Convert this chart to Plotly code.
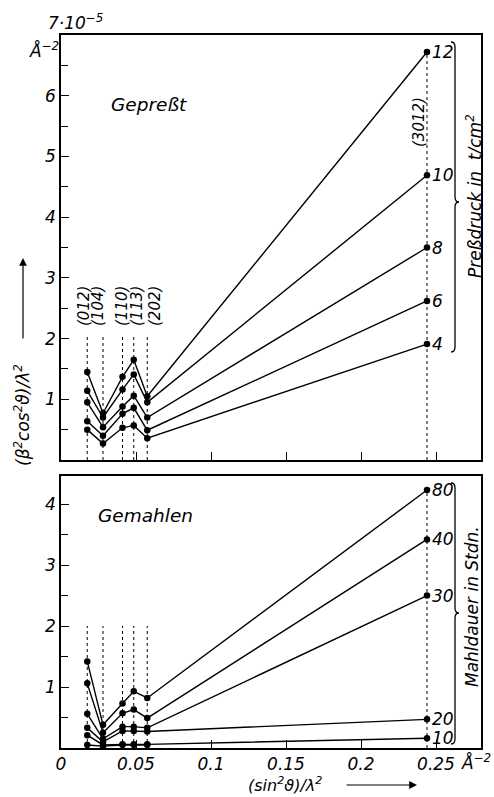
import plotly.graph_objects as go

# ---------------- data ----------------
refl_labels = ["(012)", "(104)", "(110)", "(113)", "(202)", "(3012)"]
x_refl = [0.0175, 0.028, 0.041, 0.0485, 0.0575, 0.244]

press_labels = ["12", "10", "8", "6", "4"]
press_12 = [1.45, 0.77, 1.37, 1.65, 1.05, 6.72]
press_10 = [1.14, 0.70, 1.16, 1.41, 0.95, 4.69]
press_8 = [0.95, 0.54, 0.88, 1.06, 0.70, 3.50]
press_6 = [0.64, 0.40, 0.76, 0.86, 0.49, 2.62]
press_4 = [0.50, 0.27, 0.53, 0.57, 0.36, 1.91]

mill_labels = ["80", "40", "30", "20", "10"]
mill_80 = [1.42, 0.38, 0.73, 0.93, 0.82, 4.23]
mill_40 = [1.06, 0.25, 0.57, 0.63, 0.49, 3.42]
mill_30 = [0.56, 0.15, 0.35, 0.35, 0.33, 2.50]
mill_20 = [0.33, 0.10, 0.28, 0.28, 0.27, 0.47]
mill_10 = [0.21, 0.05, 0.06, 0.06, 0.06, 0.16]
mill_base = [0.05, 0.03, 0.05, 0.05, 0.05]

x_tickvals = [0, 0.05, 0.1, 0.15, 0.2, 0.25]
x_ticktext = ["0", "0.05", "0.1", "0.15", "0.2", "0.25"]
y1_major = [1, 2, 3, 4, 5, 6]
y2_major = [1, 2, 3, 4]

# ---------------- figure ----------------
W, H = 494, 797
L, R, T, B = 61, 13, 35, 49
PW, PH = W - L - R, H - T - B


def P(px, py):
    return (px - L) / PW, (H - B - py) / PH


FONT = "DejaVu Sans"
fig = go.Figure()

press_series = [press_12, press_10, press_8, press_6, press_4]
mill_series = [mill_80, mill_40, mill_30, mill_20, mill_10]

line_style = dict(color="black", width=1.4)
mk = dict(color="black", size=6.5)

for name, ys in zip(press_labels, press_series):
    fig.add_trace(go.Scatter(x=x_refl, y=ys, mode="lines+markers", line=line_style,
                             marker=mk, name=name, xaxis="x", yaxis="y", showlegend=False))
for name, ys in zip(mill_labels, mill_series):
    fig.add_trace(go.Scatter(x=x_refl, y=ys, mode="lines+markers", line=line_style,
                             marker=mk, name=name, xaxis="x2", yaxis="y2", showlegend=False))
fig.add_trace(go.Scatter(x=x_refl[:5], y=mill_base, mode="lines+markers", line=line_style,
                         marker=mk, xaxis="x2", yaxis="y2", showlegend=False))

shapes = []
# dotted reflection lines
for i, xv in enumerate(x_refl):
    top1 = press_12[-1] if i == 5 else 2.05
    top2 = mill_80[-1] if i == 5 else 2.0
    shapes.append(dict(type="line", xref="x", yref="y", x0=xv, x1=xv, y0=0, y1=top1,
                       line=dict(color="black", width=1, dash="dot"), layer="below"))
    shapes.append(dict(type="line", xref="x2", yref="y2", x0=xv, x1=xv, y0=0, y1=top2,
                       line=dict(color="black", width=1, dash="dot"), layer="below"))


def brace(px_left, px_spine, px_tip, py_top, py_mid, py_bot):
    x0, yt = P(px_left, py_top)
    x1, ym = P(px_spine, py_mid)
    x2, _ = P(px_tip, py_mid)
    _, yb = P(px_left, py_bot)
    d = 5 / PH
    path = (f"M {x0},{yt} Q {x1},{yt} {x1},{yt - d} L {x1},{ym + d} "
            f"Q {x1},{ym} {x2},{ym} Q {x1},{ym} {x1},{ym - d} "
            f"L {x1},{yb + d} Q {x1},{yb} {x0},{yb}")
    return dict(type="path", xref="paper", yref="paper", path=path,
                line=dict(color="black", width=1.3))


shapes.append(brace(451, 455, 459, 42, 202, 352))
shapes.append(brace(451, 455, 459, 483, 613, 744))

ann = []
tf = dict(family=FONT, size=17, color="black", style="italic")


def A(text, px, py, size=17, angle=0, xanchor="center", yanchor="middle"):
    x, y = P(px, py)
    ann.append(dict(text=text, x=x, y=y, xref="paper", yref="paper", showarrow=False,
                    textangle=angle, xanchor=xanchor, yanchor=yanchor,
                    font=dict(family=FONT, size=size, color="black", style="italic")))


# end labels
for name, ys in zip(press_labels, press_series):
    ann.append(dict(text=name, x=x_refl[-1], y=ys[-1], xref="x", yref="y", showarrow=False,
                    xanchor="left", xshift=3, font=tf))
for name, ys in zip(mill_labels, mill_series):
    ann.append(dict(text=name, x=x_refl[-1], y=ys[-1], xref="x2", yref="y2", showarrow=False,
                    xanchor="left", xshift=3, font=tf))

# reflection labels
for lab, px in zip(refl_labels[:5], [84, 98, 122, 137, 155]):
    A(lab, px, 306, size=15, angle=-90)
A(refl_labels[5], 419, 122, size=15, angle=-90)

A("Gepreßt", 149, 104, size=18.5)
A("Gemahlen", 145, 515, size=18.5)
A("Preßdruck in  t/cm<sup>2</sup>", 474, 196, size=17, angle=-90)
A("Mahldauer in Stdn.", 472, 607, size=17, angle=-90)
A("7·10<sup>−5</sup>", 75, 22, size=17)
A("Å<sup>−2</sup>", 44, 50, size=17)
A("Å<sup>−2</sup>", 476, 762, size=17)
A("(β<sup>2</sup>cos<sup>2</sup>ϑ)/λ<sup>2</sup>", 22, 415, size=17, angle=-90)
A("(sin<sup>2</sup>ϑ)/λ<sup>2</sup>", 285, 784, size=16)

# arrows
xt, yt = P(417, 785)
ann.append(dict(text="", x=xt, y=yt, xref="paper", yref="paper", showarrow=True,
                ax=-72, ay=0, arrowhead=2, arrowsize=1.3, arrowwidth=1.2, arrowcolor="black"))
xt, yt = P(23, 258)
ann.append(dict(text="", x=xt, y=yt, xref="paper", yref="paper", showarrow=True,
                ax=0, ay=82, arrowhead=2, arrowsize=1.3, arrowwidth=1.2, arrowcolor="black"))

axis_common = dict(showline=True, linecolor="black", linewidth=1.5, mirror=True,
                   ticks="inside", ticklen=8, tickwidth=1.3, tickcolor="black",
                   showgrid=False, zeroline=False,
                   tickfont=dict(family=FONT, size=17, color="black", style="italic"))

y1_dom_bot = P(0, 460)[1]
y2_dom_top = P(0, 476)[1]

fig.update_layout(
    width=W, height=H,
    margin=dict(l=L, r=R, t=T, b=B),
    paper_bgcolor="white", plot_bgcolor="white",
    showlegend=False,
    xaxis=dict(axis_common, range=[0, 0.28], domain=[0, 1], anchor="y",
               tickvals=x_tickvals, showticklabels=False),
    yaxis=dict(axis_common, range=[0, 7], domain=[y1_dom_bot, 1], anchor="x",
               tickvals=y1_major, ticktext=[str(v) for v in y1_major],
               minor=dict(tickvals=[v + 0.5 for v in [0] + y1_major], ticks="inside",
                          ticklen=7, tickcolor="black", tickwidth=1.3)),
    xaxis2=dict(axis_common, range=[0, 0.28], domain=[0, 1], anchor="y2",
                tickvals=x_tickvals, ticktext=x_ticktext),
    yaxis2=dict(axis_common, range=[0, 4.46], domain=[0, y2_dom_top], anchor="x2",
                tickvals=y2_major, ticktext=[str(v) for v in y2_major],
                minor=dict(tickvals=[v + 0.5 for v in [0] + y2_major], ticks="inside",
                           ticklen=7, tickcolor="black", tickwidth=1.3)),
    shapes=shapes,
    annotations=ann,
)

fig.write_html("out.html", config={"displayModeBar": False},
               post_script="document.body.style.margin='0';document.body.style.overflow='hidden';")
